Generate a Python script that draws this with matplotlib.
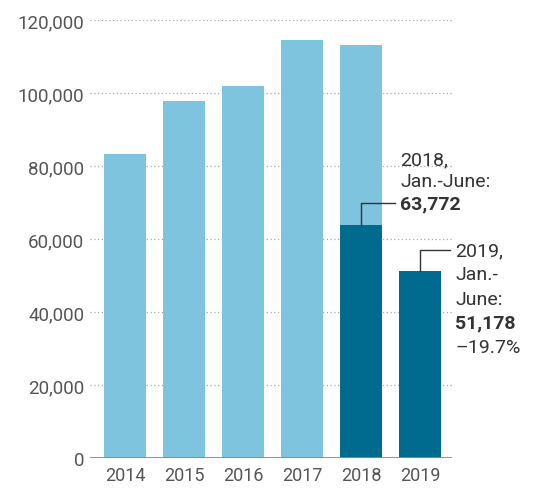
import matplotlib
matplotlib.use("Agg")
import matplotlib.pyplot as plt
from matplotlib.ticker import FuncFormatter

# --------------------------------------------------------
# Data
# --------------------------------------------------------
years = ["2014", "2015", "2016", "2017", "2018", "2019"]
full_year = [83400, 97900, 102000, 114500, 113200, None]
jan_june = [None, None, None, None, 63772, 51178]
y_ticks = [0, 20000, 40000, 60000, 80000, 100000, 120000]

LIGHT = "#7fc4de"
DARK = "#006b8f"
TEXT = "#333333"
TICK = "#555555"

plt.rcParams["font.family"] = ["Roboto", "DejaVu Sans"]

fig = plt.figure(figsize=(5.35, 4.89), dpi=100)
fig.patch.set_facecolor("white")
ax = fig.add_axes([90 / 535, 1 - 459 / 489, 362 / 535, 438 / 489])

xs = list(range(len(years)))
bar_w = 0.71

# Full-year bars (light) and first-half bars (dark)
for x, v in zip(xs, full_year):
    if v is not None:
        ax.bar(x, v, width=bar_w, color=LIGHT, zorder=2)
for x, v in zip(xs, jan_june):
    if v is not None:
        ax.bar(x, v, width=bar_w, color=DARK, zorder=3)

ax.set_xlim(-0.593, 5.542)
ax.set_ylim(0, 120000)

# Dotted gridlines behind the bars
for t in y_ticks[1:]:
    ax.axhline(t, color="#a8a8a8", linewidth=0.9, linestyle=(0, (1, 2)), zorder=1)
ax.axhline(0, color="#8a8a8a", linewidth=1.3, zorder=4)

ax.set_yticks(y_ticks)
ax.yaxis.set_major_formatter(FuncFormatter(lambda v, p: f"{int(v):,}"))
ax.set_xticks(xs)
ax.set_xticklabels(years)
ax.tick_params(axis="y", length=0, pad=4, labelsize=13.5, labelcolor=TICK)
ax.tick_params(axis="x", length=0, pad=6, labelsize=13, labelcolor=TICK)
for s in ax.spines.values():
    s.set_visible(False)

# --------------------------------------------------------
# Annotations with leader lines
# --------------------------------------------------------
px = 120000 / 438  # data units per pixel (vertical)
step = 1 / 59      # data units per pixel (horizontal)

# 2018 Jan.-June
v18 = jan_june[4]
ly = v18 + 22 * px
ax.plot([4, 4, 4 + 34 * step], [v18, ly, ly], color=TEXT, linewidth=1.0,
        clip_on=False, zorder=5)
tx = 4 + 39 * step
ax.text(tx, ly, f"{v18:,}", fontsize=14, fontweight="bold", color=TEXT,
        ha="left", va="center", clip_on=False)
ax.text(tx, ly + 22 * px, "Jan.-June:", fontsize=14, color=TEXT,
        ha="left", va="center", clip_on=False)
ax.text(tx, ly + 44 * px, "2018,", fontsize=14, color=TEXT,
        ha="left", va="center", clip_on=False)

# 2019 Jan.-June
v19 = jan_june[5]
ly = v19 + 21 * px
ax.plot([5, 5, 5 + 30 * step], [v19, ly, ly], color=TEXT, linewidth=1.0,
        clip_on=False, zorder=5)
tx = 5 + 35 * step
change = (v19 - v18) / v18 * 100
lines = [("2019,", "normal"), ("Jan.-", "normal"), ("June:", "normal"),
         (f"{v19:,}", "bold"), (f"\u2013{abs(change):.1f}%", "normal")]
for i, (s, w) in enumerate(lines):
    ax.text(tx, ly - i * 24.2 * px, s, fontsize=14, fontweight=w, color=TEXT,
            ha="left", va="center", clip_on=False)

fig.savefig("out.png", dpi=100, facecolor="white")
